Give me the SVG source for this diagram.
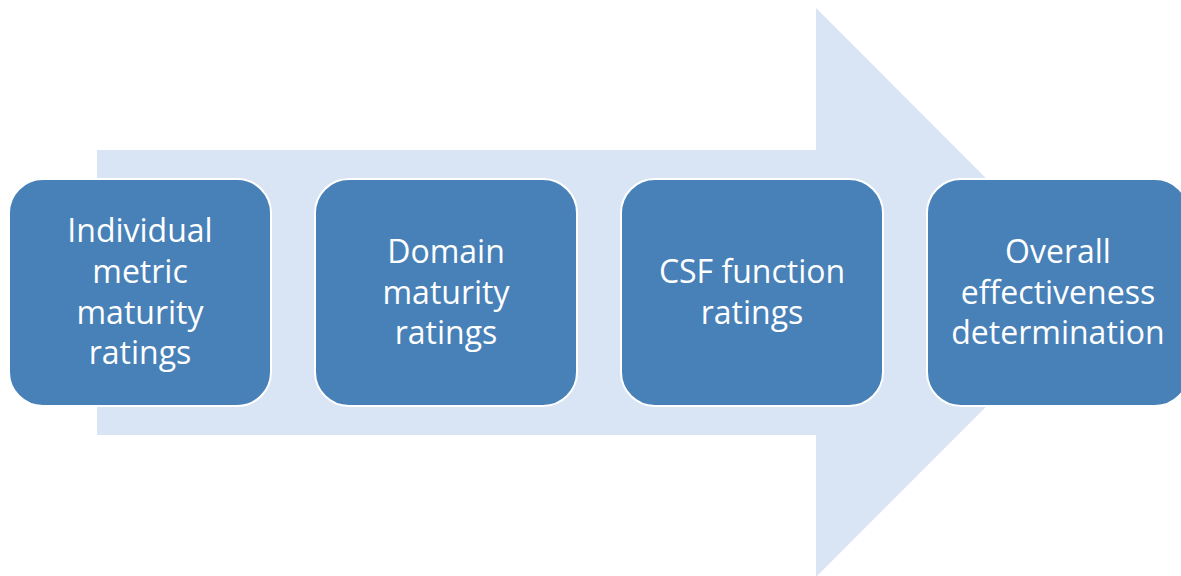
<svg xmlns="http://www.w3.org/2000/svg" width="1181" height="576" viewBox="0 0 1181 576">
<style>
.box{fill:#4781B8;stroke:#ffffff;stroke-width:2}
.lbl{fill:#ffffff;font-family:"Open Sans",Lato,"Liberation Sans",sans-serif;font-size:32px;text-anchor:middle}
</style>
<rect width="1181" height="576" fill="#ffffff"/>
<g id="arrow">
<polygon points="97,150 816,150 816,8 1100,292.5 816,577 816,435 97,435" fill="#D9E4F4"/>
</g>
<g id="connectors"></g>
<g id="node1">
<rect class="box" x="9" y="179" width="262" height="227" rx="34" ry="34"/>
<text class="lbl" x="140" y="242">Individual</text>
<text class="lbl" x="140" y="283">metric</text>
<text class="lbl" x="140" y="324">maturity</text>
<text class="lbl" x="140" y="364">ratings</text>
</g>
<g id="node2">
<rect class="box" x="315" y="179" width="262" height="227" rx="34" ry="34"/>
<text class="lbl" x="446" y="263">Domain</text>
<text class="lbl" x="446" y="303.5">maturity</text>
<text class="lbl" x="446" y="344">ratings</text>
</g>
<g id="node3">
<rect class="box" x="621" y="179" width="262" height="227" rx="34" ry="34"/>
<text class="lbl" x="752" y="283">CSF function</text>
<text class="lbl" x="752" y="324">ratings</text>
</g>
<g id="node4">
<rect class="box" x="927" y="179" width="262" height="227" rx="34" ry="34"/>
<text class="lbl" x="1058" y="263">Overall</text>
<text class="lbl" x="1058" y="303.5">effectiveness</text>
<text class="lbl" x="1058" y="344">determination</text>
</g>
</svg>
